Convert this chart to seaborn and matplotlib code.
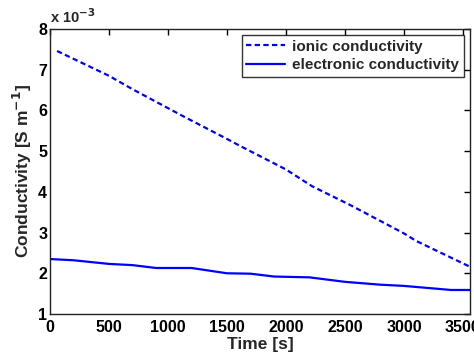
import matplotlib
matplotlib.use("Agg")
import matplotlib.pyplot as plt
import seaborn as sns
import pandas as pd

# Data (conductivity in units of 1e-3 S/m)
ionic_time = [60, 500, 700, 1127, 1500, 1610, 2000, 2220, 2542, 3000, 3100, 3560]
ionic_cond = [7.46, 6.85, 6.52, 5.86, 5.30, 5.13, 4.55, 4.14, 3.68, 2.98, 2.80, 2.16]
elec_time = [0, 200, 500, 700, 900, 1200, 1500, 1700, 1900, 2200, 2500, 2800, 3000, 3400, 3560]
elec_cond = [2.35, 2.32, 2.23, 2.20, 2.13, 2.13, 2.00, 1.99, 1.92, 1.90, 1.79, 1.72, 1.69, 1.59, 1.59]

xticks = [0, 500, 1000, 1500, 2000, 2500, 3000, 3500]
yticks = [1, 2, 3, 4, 5, 6, 7, 8]

sns.set_style("white")
plt.rcParams['font.family'] = ['Liberation Sans', 'DejaVu Sans']
plt.rcParams['font.weight'] = 'bold'

df_i = pd.DataFrame({"t": ionic_time, "c": ionic_cond})
df_e = pd.DataFrame({"t": elec_time, "c": elec_cond})

fig = plt.figure(figsize=(4.74, 3.55), dpi=100)
ax = fig.add_axes([50/474, 1-314/355, 420/474, 285/355])

sns.lineplot(data=df_i, x="t", y="c", ax=ax, color="#0000ff", lw=1.6,
             linestyle=(0, (2.4, 1.5)), label="ionic conductivity")
sns.lineplot(data=df_e, x="t", y="c", ax=ax, color="#0000ff", lw=1.6,
             label="electronic conductivity")

ax.set_xlim(0, 3560)
ax.set_ylim(1, 8)
ax.set_xticks(xticks)
ax.set_yticks(yticks)
ax.set_xticklabels([str(v) for v in xticks], fontsize=11.5, fontweight='bold')
ax.set_yticklabels([str(v) for v in yticks], fontsize=11.5, fontweight='bold')
ax.tick_params(direction='in', top=True, right=True, length=4, width=1, pad=2, colors='black')
ax.tick_params(axis='x', pad=4)
for s in ax.spines.values():
    s.set_color('#222222')
    s.set_linewidth(1)
ax.set_xlabel("Time [s]", fontsize=12.5, fontweight='bold', labelpad=2)
ax.set_ylabel("Conductivity [S m$^{\\mathbf{-1}}$]", fontsize=12.5, fontweight='bold', labelpad=3)
ax.text(0.0, 1.01, "x 10$^{\\mathbf{-3}}$", transform=ax.transAxes, fontsize=10.5, fontweight='bold',
        ha='left', va='bottom')

leg = ax.legend(loc='upper right', fontsize=11, frameon=True, fancybox=False,
                edgecolor='black', handlelength=2.5, borderaxespad=0.4,
                borderpad=0.3, labelspacing=0.3, handletextpad=0.5)
leg.get_frame().set_linewidth(1)
for t in leg.get_texts():
    t.set_fontweight('bold')

fig.savefig("out.png", dpi=100)
